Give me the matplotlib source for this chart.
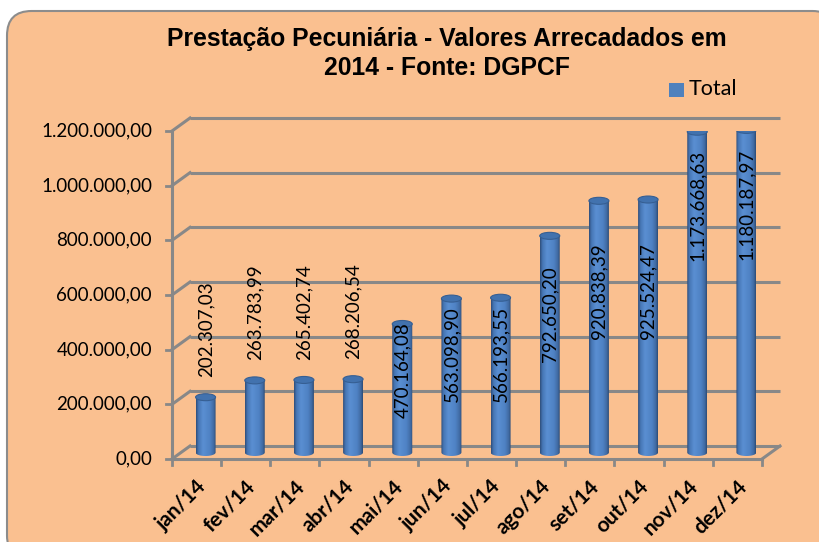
import numpy as np
import matplotlib
matplotlib.use("Agg")
import matplotlib.pyplot as plt
from matplotlib.patches import FancyBboxPatch, Ellipse, Rectangle, PathPatch
from matplotlib.path import Path
from matplotlib.transforms import offset_copy, IdentityTransform

# dados
meses = ["jan/14", "fev/14", "mar/14", "abr/14", "mai/14", "jun/14",
         "jul/14", "ago/14", "set/14", "out/14", "nov/14", "dez/14"]
valores = [202307.03, 263783.99, 265402.74, 268206.54, 470164.08, 563098.90,
           566193.55, 792650.20, 920838.39, 925524.47, 1173668.63, 1180187.97]
y_ticks = [0, 200000, 400000, 600000, 800000, 1000000, 1200000]
titulo = ["Prestação Pecuniária - Valores Arrecadados em", "2014 - Fonte: DGPCF"]
serie = "Total"


def fmt_br(v):
    s = f"{v:,.2f}"
    return s.replace(",", "X").replace(".", ",").replace("X", ".")


W, H = 820, 542
fig = plt.figure(figsize=(W / 100, H / 100), dpi=100)
fig.patch.set_facecolor("white")

# fundo arredondado
bg = FancyBboxPatch((7 / W, 1 - 560 / H), 830 / W, 549 / H,
                    boxstyle="round,pad=0,rounding_size=0.03",
                    transform=fig.transFigure, facecolor="#FAC090",
                    edgecolor="#8C8C8C", linewidth=1.5, zorder=-10,
                    mutation_aspect=W / H)
fig.patches.append(bg)

# plano frontal do gráfico 3D (em pixels)
x_left, x_right = 172, 762
y_bot, y_top = 459, 131
ax = fig.add_axes([x_left / W, 1 - y_bot / H, (x_right - x_left) / W, (y_bot - y_top) / H])
ax.set_facecolor("none")
ax.axis("off")
n = len(meses)
ax.set_xlim(0, n)
ax.set_ylim(0, 1200000)

grid_c = "#888888"
back = offset_copy(ax.transData, fig=fig, x=18, y=13, units="dots")
mid = offset_copy(ax.transData, fig=fig, x=9, y=6.5, units="dots")

# parede de fundo: linhas de grade
for t in y_ticks:
    ax.plot([0, n], [t, t], color=grid_c, lw=2.2, transform=back, zorder=1,
            solid_capstyle="butt", clip_on=False)

# diagonais e linhas do piso (em coordenadas de tela)
def disp(tr, x, y):
    return tr.transform((x, y))

ident = IdentityTransform()
for t in y_ticks:
    p0 = disp(ax.transData, 0, t)
    p1 = disp(back, 0, t)
    fig.add_artist(plt.Line2D([p0[0], p1[0]], [p0[1], p1[1]], color=grid_c,
                              lw=2.2, transform=ident, zorder=2))
p0 = disp(ax.transData, n, 0)
p1 = disp(back, n, 0)
fig.add_artist(plt.Line2D([p0[0], p1[0]], [p0[1], p1[1]], color=grid_c,
                          lw=2.2, transform=ident, zorder=2))

# eixo frontal
ax.plot([0, 0], [0, 1200000], color=grid_c, lw=2.2, zorder=2, clip_on=False)
ax.plot([0, n], [0, 0], color=grid_c, lw=2.2, zorder=2, clip_on=False)
px_per_unit_y = (y_bot - y_top) / 1200000
cat_px = (x_right - x_left) / n
for t in y_ticks:
    p = disp(ax.transData, 0, t)
    fig.add_artist(plt.Line2D([p[0] - 6, p[0]], [p[1], p[1]], color=grid_c,
                              lw=2.0, transform=ident, zorder=2))
    ax.text(-20 / cat_px, t, fmt_br(t), ha="right", va="center",
            fontsize=13.5, family="Lato", color="black", clip_on=False)
for i in range(n + 1):
    p = disp(ax.transData, i, 0)
    fig.add_artist(plt.Line2D([p[0], p[0]], [p[1], p[1] - 6], color=grid_c,
                              lw=2.0, transform=ident, zorder=2))

# rótulos do eixo x
xt = offset_copy(ax.transData, fig=fig, x=-1, y=-17, units="dots")
for i, m in enumerate(meses):
    ax.text(i + 0.5, 0, m, transform=xt, rotation=45, rotation_mode="anchor",
            ha="right", va="top", fontsize=15, fontweight="bold", family="Lato")

# cilindros
bw = 20 / cat_px
eh = 7 / px_per_unit_y
stops_x = [0.0, 0.12, 0.35, 0.7, 0.9, 1.0]
stops_c = np.array([[47, 78, 122], [70, 118, 180], [90, 143, 210],
                    [79, 130, 196], [64, 106, 162], [45, 75, 118]]) / 255.0
xs = np.linspace(0, 1, 64)
grad = np.stack([np.interp(xs, stops_x, stops_c[:, k]) for k in range(3)], axis=-1)
grad = grad[np.newaxis, :, :]

for i, v in enumerate(valores):
    cx = i + 0.5
    x0, x1 = cx - bw / 2, cx + bw / 2
    ang = np.linspace(np.pi, 2 * np.pi, 30)
    verts = [(cx + bw / 2 * np.cos(a), eh / 2 * np.sin(a)) for a in ang]
    verts += [(x1, v), (x0, v), (x0, 0)]
    codes = [Path.MOVETO] + [Path.LINETO] * (len(verts) - 2) + [Path.CLOSEPOLY]
    body = PathPatch(Path(verts, codes), facecolor="none", edgecolor="none",
                     transform=mid)
    ax.add_patch(body)
    im = ax.imshow(grad, extent=(x0, x1, -eh, v), aspect="auto", zorder=3,
                   interpolation="bilinear")
    im.set_transform(mid)
    im.set_clip_path(body)
    ax.add_patch(Ellipse((cx, v), bw, eh, facecolor="#4272AE", edgecolor="#365F93",
                         lw=0.8, transform=mid, zorder=4))

ax.set_xlim(0, n)
ax.set_ylim(0, 1200000)

# rótulos de dados
lt = offset_copy(ax.transData, fig=fig, x=9, y=6.5 + 20, units="dots")
for i, v in enumerate(valores):
    lab = fmt_br(v)
    if v < 300000:
        ax.text(i + 0.5, v, lab, transform=lt, rotation=90, ha="center", va="bottom",
                fontsize=13.5, family="Lato", zorder=5)
    else:
        yc = 0.77 * v if v > 1100000 else 0.64 * v
        ax.text(i + 0.5, yc, lab, transform=mid, rotation=90, ha="center",
                va="center", fontsize=13.5, family="Lato", zorder=5)

# título
fig.text(447 / W, 1 - 46 / H, titulo[0], ha="center", va="baseline", fontsize=17.8,
         fontweight="bold", family="Liberation Sans")
fig.text(447 / W, 1 - 75 / H, titulo[1], ha="center", va="baseline", fontsize=17.8,
         fontweight="bold", family="Liberation Sans")

# legenda
fig.patches.append(Rectangle((669 / W, 1 - 97 / H), 15 / W, 14 / H,
                             transform=fig.transFigure, facecolor="#4F81BD",
                             edgecolor="none"))
fig.text(689 / W, 1 - 89 / H, serie, ha="left", va="center", fontsize=15.5,
         family="Lato")

fig.savefig("out.png", dpi=100, facecolor=fig.get_facecolor())
